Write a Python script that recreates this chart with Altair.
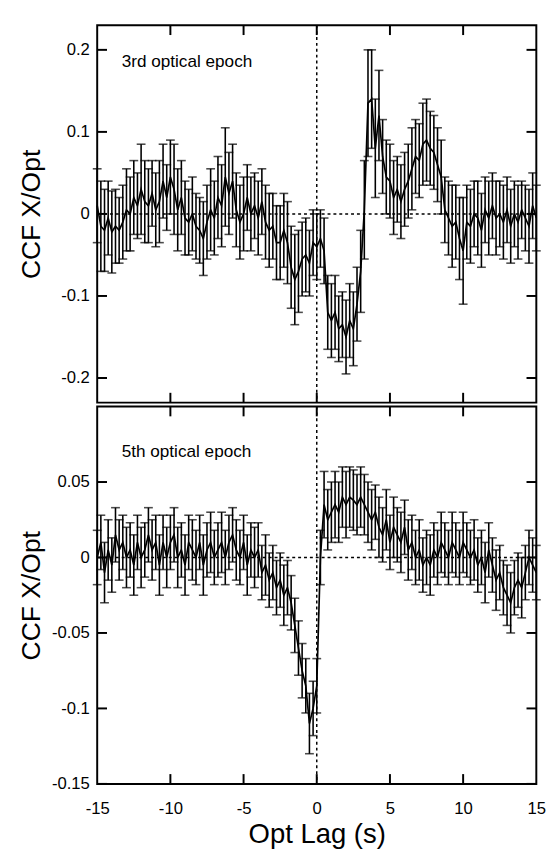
import altair as alt
import pandas as pd

# lag grid (s)
lag = [round(-15 + 0.25 * i, 2) for i in range(121)]

# 3rd optical epoch CCF values and 1-sigma errors
ccf_3rd = [
    0.010, -0.015, -0.020, -0.005, -0.022, -0.015, -0.020, -0.010, 0.005, 0.000,
    0.020, 0.010, 0.030, 0.015, 0.010, 0.025, 0.005, 0.015, 0.040, 0.020,
    0.045, 0.030, 0.005, 0.020, -0.005, -0.010, 0.000, -0.015, -0.020, -0.030,
    -0.010, 0.005, -0.005, 0.020, 0.010, 0.045, 0.025, 0.040, 0.005, -0.010,
    0.000, 0.020, 0.000, 0.010, -0.005, 0.015, -0.010, -0.020, -0.015, -0.035,
    -0.035, -0.020, -0.035, -0.065, -0.080, -0.070, -0.055, -0.050, -0.060, -0.035,
    -0.040, -0.030, -0.045, -0.120, -0.130, -0.120, -0.140, -0.135, -0.150, -0.130,
    -0.140, -0.110, -0.070, 0.005, 0.135, 0.140, 0.080, 0.120, 0.070, 0.045,
    0.040, 0.020, 0.030, 0.015, 0.030, 0.040, 0.055, 0.070, 0.065, 0.085,
    0.090, 0.080, 0.075, 0.060, 0.045, 0.005, -0.005, -0.015, -0.010, -0.030,
    -0.045, -0.010, -0.015, 0.000, -0.005, -0.020, 0.005, -0.005, 0.010, -0.005,
    0.000, -0.010, 0.005, -0.015, 0.000, -0.010, 0.005, -0.005, -0.015, 0.010,
    -0.005,
]
err_3rd = [
    0.045, 0.055, 0.050, 0.045, 0.050, 0.045, 0.040, 0.045, 0.050, 0.045,
    0.045, 0.040, 0.055, 0.050, 0.045, 0.040, 0.045, 0.050, 0.045, 0.040,
    0.045, 0.055, 0.050, 0.045, 0.045, 0.040, 0.045, 0.040, 0.040, 0.045,
    0.045, 0.050, 0.045, 0.050, 0.050, 0.060, 0.050, 0.045, 0.045, 0.045,
    0.045, 0.040, 0.045, 0.040, 0.045, 0.040, 0.045, 0.045, 0.040, 0.045,
    0.045, 0.045, 0.050, 0.050, 0.055, 0.050, 0.045, 0.045, 0.040, 0.040,
    0.040, 0.035, 0.040, 0.045, 0.045, 0.045, 0.040, 0.040, 0.045, 0.045,
    0.045, 0.045, 0.050, 0.060, 0.065, 0.060, 0.060, 0.055, 0.045, 0.045,
    0.045, 0.045, 0.040, 0.045, 0.045, 0.045, 0.050, 0.045, 0.045, 0.050,
    0.050, 0.045, 0.045, 0.045, 0.045, 0.040, 0.045, 0.050, 0.045, 0.050,
    0.065, 0.045, 0.045, 0.040, 0.045, 0.045, 0.040, 0.045, 0.040, 0.045,
    0.040, 0.045, 0.040, 0.045, 0.040, 0.045, 0.035, 0.040, 0.045, 0.040,
    0.040,
]

# 5th optical epoch CCF values and 1-sigma errors
ccf_5th = [
    0.000, 0.010, -0.010, 0.005, -0.005, 0.015, 0.005, 0.010, 0.000, 0.005,
    -0.005, 0.010, 0.000, 0.005, 0.015, 0.005, 0.010, -0.005, 0.010, 0.000,
    0.010, 0.015, 0.000, 0.005, -0.005, 0.010, 0.005, 0.000, 0.010, -0.005,
    0.005, 0.010, 0.000, 0.005, 0.010, 0.000, 0.010, 0.015, 0.005, 0.000,
    0.010, -0.005, 0.005, 0.000, 0.005, -0.010, -0.005, -0.015, -0.010, -0.020,
    -0.015, -0.025, -0.020, -0.030, -0.045, -0.060, -0.075, -0.085, -0.110, -0.100,
    -0.085, 0.000, 0.035, 0.025, 0.030, 0.035, 0.030, 0.040, 0.035, 0.040,
    0.038, 0.035, 0.040, 0.035, 0.030, 0.025, 0.030, 0.020, 0.015, 0.025,
    0.010, 0.020, 0.015, 0.010, 0.020, 0.005, 0.010, 0.000, 0.005, -0.005,
    0.000, -0.005, 0.005, 0.000, 0.010, 0.005, 0.000, 0.010, 0.005, 0.000,
    0.010, 0.005, 0.000, 0.005, -0.005, 0.000, -0.010, 0.005, -0.005, -0.015,
    -0.010, -0.020, -0.025, -0.030, -0.020, -0.015, -0.020, -0.010, 0.000, -0.005,
    -0.010,
]
err_5th = [
    0.018, 0.018, 0.020, 0.020, 0.018, 0.018, 0.020, 0.018, 0.020, 0.018,
    0.020, 0.018, 0.020, 0.018, 0.018, 0.020, 0.018, 0.020, 0.018, 0.020,
    0.018, 0.018, 0.020, 0.018, 0.020, 0.018, 0.020, 0.018, 0.018, 0.020,
    0.018, 0.020, 0.018, 0.018, 0.020, 0.018, 0.018, 0.018, 0.020, 0.018,
    0.018, 0.020, 0.018, 0.020, 0.018, 0.018, 0.020, 0.018, 0.018, 0.018,
    0.018, 0.020, 0.018, 0.018, 0.018, 0.018, 0.018, 0.018, 0.020, 0.018,
    0.018, 0.018, 0.022, 0.020, 0.020, 0.022, 0.020, 0.020, 0.022, 0.020,
    0.020, 0.020, 0.020, 0.020, 0.020, 0.020, 0.018, 0.020, 0.018, 0.020,
    0.018, 0.020, 0.018, 0.020, 0.018, 0.020, 0.018, 0.018, 0.020, 0.018,
    0.018, 0.020, 0.018, 0.018, 0.020, 0.018, 0.018, 0.020, 0.018, 0.018,
    0.020, 0.018, 0.018, 0.020, 0.018, 0.018, 0.020, 0.018, 0.018, 0.020,
    0.018, 0.018, 0.020, 0.020, 0.018, 0.018, 0.020, 0.018, 0.018, 0.018,
    0.018,
]

x_ticks = [-10, -5, 0, 5, 10]
x_labels = [-15, -10, -5, 0, 5, 10, 15]
y_ticks_3rd = [-0.2, -0.1, 0, 0.1, 0.2]
y_ticks_5th = [-0.15, -0.1, -0.05, 0, 0.05]
panel_labels = ["3rd optical epoch", "5th optical epoch"]

FONT = "Liberation Sans"
W, H = 448, 385
TICK = 10


def panel(vals, errs, ydom, yticks, label, label_y, bottom):
    df = pd.DataFrame({
        "lag": lag,
        "ccf": vals,
        "lo": [v - e for v, e in zip(vals, errs)],
        "hi": [v + e for v, e in zip(vals, errs)],
    })
    xscale = alt.Scale(domain=[-15, 15], nice=False, zero=False)
    yscale = alt.Scale(domain=ydom, nice=False, zero=False)
    if bottom:
        xaxis = alt.Axis(values=x_labels, ticks=False, domain=False, grid=False,
                         labelExpr="'' + datum.value", labelFontSize=17,
                         labelPadding=17, labelFlush=False, labelOverlap=False,
                         labelFont=FONT, labelColor="black",
                         title="Opt Lag (s)", titleFont=FONT, titleFontSize=28,
                         titleFontWeight="normal", titleColor="black", titlePadding=5)
    else:
        xaxis = None
    yaxis = alt.Axis(values=yticks, ticks=False, domain=False, grid=False,
                     labelExpr="datum.value === 0 ? '0' : '' + datum.value",
                     labelFontSize=17, labelPadding=8, labelFlush=False,
                     labelOverlap=False, labelFont=FONT, labelColor="black",
                     title="CCF X/Opt", titleFont=FONT, titleFontSize=27,
                     titleFontWeight="normal", titleColor="black",
                     titleX=-67, titleBaseline="middle")

    base = alt.Chart(df)
    x = alt.X("lag:Q", scale=xscale, axis=xaxis)
    y = alt.Y("ccf:Q", scale=yscale, axis=yaxis)

    zero_h = alt.Chart(pd.DataFrame({"v": [0]})).mark_rule(
        color="black", strokeWidth=1.5, strokeDash=[3, 3]
    ).encode(y=alt.Y("v:Q", scale=yscale, axis=yaxis))
    zero_v = alt.Chart(pd.DataFrame({"v": [0]})).mark_rule(
        color="black", strokeWidth=1.5, strokeDash=[3, 3]
    ).encode(x=alt.X("v:Q", scale=xscale, axis=xaxis))

    bars = base.mark_rule(color="black", strokeWidth=1.6).encode(
        x=x, y=alt.Y("lo:Q", scale=yscale, axis=yaxis), y2="hi:Q")
    cap_lo = base.mark_tick(color="black", orient="horizontal", size=9, thickness=1.6).encode(
        x=x, y=alt.Y("lo:Q", scale=yscale, axis=yaxis))
    cap_hi = base.mark_tick(color="black", orient="horizontal", size=9, thickness=1.6).encode(
        x=x, y=alt.Y("hi:Q", scale=yscale, axis=yaxis))
    line = base.mark_line(color="black", strokeWidth=1.7).encode(x=x, y=y)

    xt = alt.Chart(pd.DataFrame({"t": x_ticks}))
    yt = alt.Chart(pd.DataFrame({"t": yticks}))
    tick_top = xt.mark_rule(color="black", strokeWidth=2).encode(
        x=alt.X("t:Q", scale=xscale, axis=xaxis), y=alt.value(0), y2=alt.value(TICK))
    tick_bot = xt.mark_rule(color="black", strokeWidth=2).encode(
        x=alt.X("t:Q", scale=xscale, axis=xaxis), y=alt.value(H), y2=alt.value(H - TICK))
    tick_l = yt.mark_rule(color="black", strokeWidth=2).encode(
        y=alt.Y("t:Q", scale=yscale, axis=yaxis), x=alt.value(0), x2=alt.value(TICK))
    tick_r = yt.mark_rule(color="black", strokeWidth=2).encode(
        y=alt.Y("t:Q", scale=yscale, axis=yaxis), x=alt.value(W - TICK), x2=alt.value(W))

    txt = alt.Chart(pd.DataFrame({"s": [label]})).mark_text(
        align="left", baseline="alphabetic", font=FONT, fontSize=17.5, color="black"
    ).encode(text="s:N", x=alt.value(25), y=alt.value(label_y))

    return alt.layer(zero_h, zero_v, bars, cap_lo, cap_hi, line,
                     tick_top, tick_bot, tick_l, tick_r, txt).properties(width=W, height=H)


top = panel(ccf_3rd, err_3rd, [-0.23, 0.23], y_ticks_3rd, panel_labels[0], 43, False)
bot = panel(ccf_5th, err_5th, [-0.15, 0.1], y_ticks_5th, panel_labels[1], 51, True)

chart = alt.vconcat(top, bot, spacing=0).resolve_scale(y="independent").properties(
    padding={"left": 9, "top": 7, "right": 5, "bottom": 0},
    background="white",
).configure_view(stroke="black", strokeWidth=2)

chart.save("out.html", embed_options={"renderer": "svg", "actions": False})
